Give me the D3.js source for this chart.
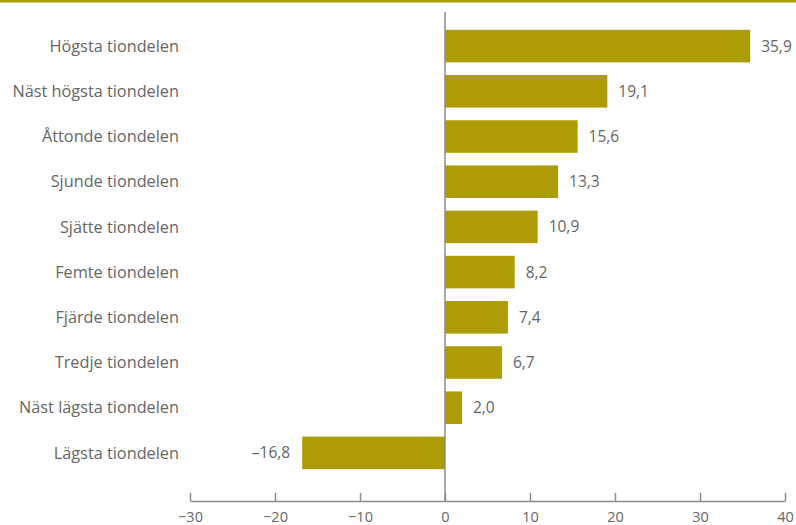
<!DOCTYPE html>
<html>
<head>
<meta charset="utf-8">
<script src="https://cdn.jsdelivr.net/npm/d3@7"></script>
<style>
  body { margin: 0; background: #fff; }
  text { font-family: "Open Sans", sans-serif; fill: #666; }
</style>
</head>
<body>
<div id="canvas"></div>
<script>
"use strict"

/* Data */
let categories = [
    "Högsta tiondelen",
    "Näst högsta tiondelen",
    "Åttonde tiondelen",
    "Sjunde tiondelen",
    "Sjätte tiondelen",
    "Femte tiondelen",
    "Fjärde tiondelen",
    "Tredje tiondelen",
    "Näst lägsta tiondelen",
    "Lägsta tiondelen"
];
let values = [35.9, 19.1, 15.6, 13.3, 10.9, 8.2, 7.4, 6.7, 2.0, -16.8];
let xTicks = [-30, -20, -10, 0, 10, 20, 30, 40];

/* Drawing config */
let svgWidth = 796;
let svgHeight = 525;
let barColor = "#ad9c06";
let axisColor = "#8c8c8c";

let svg = d3.select("#canvas")
    .append("svg")
    .attr("width", svgWidth)
    .attr("height", svgHeight);

// top rule
svg.append("rect")
    .attr("x", 0)
    .attr("y", 0)
    .attr("width", svgWidth)
    .attr("height", 2.5)
    .attr("fill", barColor);

let xScale = d3.scaleLinear()
    .domain([-30, 40])
    .range([190, 785]);

let yScale = d3.scaleBand()
    .domain(categories)
    .range([23.5, 475.5])
    .paddingInner(0.28)
    .paddingOuter(0.14);

let fmt = function(v) {
    let s = Math.abs(v).toFixed(1).replace(".", ",");
    return v < 0 ? "\u2013" + s : s;
};

let rows = categories.map(function(c, i) { return { label: c, value: values[i] }; });

// bars
svg.selectAll(".bar")
    .data(rows)
    .join("rect")
    .attr("class", "bar")
    .attr("x", d => xScale(Math.min(0, d.value)))
    .attr("y", d => yScale(d.label))
    .attr("width", d => Math.abs(xScale(d.value) - xScale(0)))
    .attr("height", yScale.bandwidth())
    .attr("fill", barColor);

// zero line
svg.append("line")
    .attr("x1", xScale(0))
    .attr("x2", xScale(0))
    .attr("y1", 12)
    .attr("y2", 501)
    .attr("stroke", axisColor)
    .attr("stroke-width", 1.5);

// category labels
svg.selectAll(".cat-label")
    .data(rows)
    .join("text")
    .attr("class", "cat-label")
    .attr("x", 179)
    .attr("y", d => yScale(d.label) + yScale.bandwidth() / 2)
    .attr("dy", "0.35em")
    .attr("text-anchor", "end")
    .style("font-size", "16.3px")
    .text(d => d.label);

// value labels
svg.selectAll(".val-label")
    .data(rows)
    .join("text")
    .attr("class", "val-label")
    .attr("x", d => d.value < 0 ? xScale(d.value) - 12 : xScale(d.value) + 11)
    .attr("y", d => yScale(d.label) + yScale.bandwidth() / 2)
    .attr("dy", "0.35em")
    .attr("text-anchor", d => d.value < 0 ? "end" : "start")
    .style("font-size", "15.5px")
    .text(d => fmt(d.value));

// x axis
let xAxis = d3.axisBottom(xScale)
    .tickValues(xTicks)
    .tickSize(-8)
    .tickSizeOuter(0)
    .tickPadding(10)
    .tickFormat(d => d < 0 ? "\u2212" + Math.abs(d) : String(d));

let axisG = svg.append("g")
    .attr("transform", "translate(0,501)")
    .call(xAxis);

axisG.select(".domain")
    .attr("stroke", axisColor)
    .attr("stroke-width", 1.5);
axisG.selectAll(".tick line")
    .attr("stroke", axisColor)
    .attr("stroke-width", 1.5);
axisG.selectAll(".tick text")
    .attr("fill", "#666")
    .attr("y", 11)
    .attr("dy", "0.71em")
    .style("font-family", "'Open Sans', sans-serif")
    .style("font-size", "14.5px");
</script>
</body>
</html>
